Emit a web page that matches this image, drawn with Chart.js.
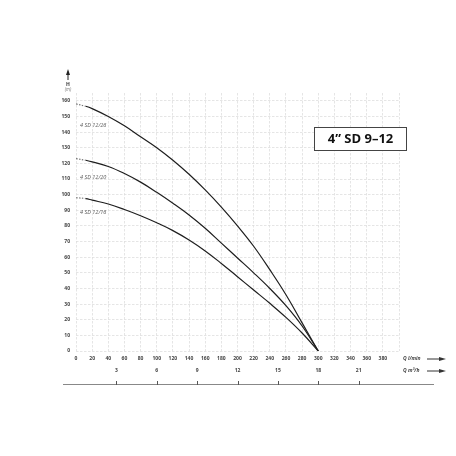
<!DOCTYPE html>
<html>
<head>
<meta charset="utf-8">
<script src="https://cdn.jsdelivr.net/npm/chart.js@4"></script>
<style>
  html, body { margin: 0; padding: 0; background: #fff; }
  #wrap { width: 456px; height: 456px; }
</style>
</head>
<body>
<div id="wrap"><canvas id="chart" width="456" height="456"></canvas></div>
<script>
// flow in l/min, head in m
const flowLpm = [0, 12, 20, 40, 60, 80, 100, 120, 140, 160, 180, 200, 220, 240, 260, 280, 300];
const head1226 = [158, 156.5, 155, 150, 144, 137, 130, 122, 113, 103, 92, 80, 67, 52, 36, 18, 0];
const head1220 = [123, 122, 121, 118, 113.5, 108, 101.5, 94.5, 87, 78.5, 69, 59.5, 50, 40, 29, 16, 0];
const head1216 = [98, 97.5, 96.5, 94, 90.5, 86.5, 82, 77, 71, 64, 56, 47.5, 39, 30.5, 21.5, 11.5, 0];
const pumpNames = ["4 SD 12/26", "4 SD 12/20", "4 SD 12/16"];
const m3hTicks = [3, 6, 9, 12, 15, 18, 21];
const title = "4\u201D SD 9\u201312";

const toPoints = (heads) => flowLpm.map((q, i) => ({ x: q, y: heads[i] }));

const curve = (name, heads) => ({
    label: name,
    data: toPoints(heads),
    borderColor: "#1e1e1e",
    borderWidth: 1.2,
    pointRadius: 0,
    fill: false,
    tension: 0.4,
    segment: {
        borderDash: ctx => ctx.p0DataIndex === 0 ? [1.5, 1.5] : undefined,
        borderColor: ctx => ctx.p0DataIndex === 0 ? "#777" : undefined
    }
});

const tickFont = { family: "'Open Sans', sans-serif", size: 5, weight: "bold" };

const extras = {
    id: "extras",
    afterDraw(chart) {
        const ctx = chart.ctx;
        const x2 = chart.scales.x2;
        ctx.save();

        // H (m) arrow
        ctx.strokeStyle = "#222";
        ctx.fillStyle = "#222";
        ctx.lineWidth = 1;
        ctx.beginPath();
        ctx.moveTo(68, 74);
        ctx.lineTo(68, 80);
        ctx.stroke();
        ctx.beginPath();
        ctx.moveTo(68, 69);
        ctx.lineTo(66, 75);
        ctx.lineTo(70, 75);
        ctx.closePath();
        ctx.fill();
        ctx.font = "bold 5px 'Open Sans', sans-serif";
        ctx.textAlign = "center";
        ctx.textBaseline = "middle";
        ctx.fillStyle = "#333";
        ctx.fillText("H", 68, 85);
        ctx.font = "italic 4.5px 'Open Sans', sans-serif";
        ctx.fillStyle = "#777";
        ctx.fillText("(m)", 68, 90);

        // curve names
        ctx.font = "italic 5.5px 'Open Sans', sans-serif";
        ctx.fillStyle = "#555";
        ctx.textAlign = "left";
        ctx.fillText(pumpNames[0], 80, 125);
        ctx.fillText(pumpNames[1], 80, 177);
        ctx.fillText(pumpNames[2], 80, 212);

        // title box
        ctx.strokeStyle = "#444";
        ctx.lineWidth = 1;
        ctx.fillStyle = "#fff";
        ctx.fillRect(314.5, 127.5, 92, 23);
        ctx.strokeRect(314.5, 127.5, 92, 23);
        ctx.fillStyle = "#111";
        ctx.font = "bold 13px 'Open Sans', sans-serif";
        ctx.textAlign = "center";
        ctx.fillText(title, 360.5, 139.5);

        // second flow axis line and tick marks
        const lineY = 384;
        ctx.strokeStyle = "#888";
        ctx.lineWidth = 1;
        ctx.beginPath();
        ctx.moveTo(63, lineY + 0.5);
        ctx.lineTo(434, lineY + 0.5);
        ctx.stroke();
        ctx.strokeStyle = "#555";
        m3hTicks.forEach(v => {
            const px = Math.round(x2.getPixelForValue(v)) + 0.5;
            ctx.beginPath();
            ctx.moveTo(px, lineY - 3);
            ctx.lineTo(px, lineY + 1);
            ctx.stroke();
        });

        // axis names on the right
        ctx.font = "italic bold 5px 'Open Sans', sans-serif";
        ctx.fillStyle = "#444";
        ctx.textAlign = "left";
        ctx.fillText("Q l/min", 403, 359);
        ctx.fillText("Q m\u00B3/h", 403, 371);
        [359, 371].forEach(ay => {
            ctx.strokeStyle = "#333";
            ctx.beginPath();
            ctx.moveTo(427, ay);
            ctx.lineTo(440, ay);
            ctx.stroke();
            ctx.fillStyle = "#333";
            ctx.beginPath();
            ctx.moveTo(446, ay);
            ctx.lineTo(439, ay - 2);
            ctx.lineTo(439, ay + 2);
            ctx.closePath();
            ctx.fill();
        });
        ctx.restore();
    }
};

new Chart(document.getElementById("chart"), {
    type: "line",
    data: {
        datasets: [
            curve(pumpNames[0], head1226),
            curve(pumpNames[1], head1220),
            curve(pumpNames[2], head1216)
        ]
    },
    options: {
        responsive: false,
        animation: false,
        layout: { padding: { left: 0, right: 57, top: 93, bottom: 59 } },
        plugins: { legend: { display: false }, tooltip: { enabled: false } },
        scales: {
            x: {
                type: "linear",
                position: "bottom",
                min: 0,
                max: 400,
                weight: 0,
                afterFit: s => { s.height = 16; },
                ticks: {
                    stepSize: 20,
                    padding: 5,
                    color: "#444",
                    font: tickFont,
                    maxRotation: 0,
                    autoSkip: false,
                    callback: v => v === 400 ? "" : v
                },
                grid: { color: "#dedede", lineWidth: 0.8, drawTicks: false },
                border: { display: false, dash: [2.5, 1.5] }
            },
            x2: {
                type: "linear",
                position: "bottom",
                min: 0,
                max: 24,
                weight: 1,
                afterFit: s => { s.height = 30; },
                afterBuildTicks: s => { s.ticks = m3hTicks.map(v => ({ value: v })); },
                ticks: {
                    padding: 1,
                    color: "#444",
                    font: tickFont,
                    maxRotation: 0,
                    autoSkip: false
                },
                grid: { display: false, drawTicks: false },
                border: { display: false }
            },
            y: {
                min: 0,
                max: 165,
                afterFit: s => { s.width = 76; },
                afterBuildTicks: s => { s.ticks = s.ticks.filter(t => t.value % 10 === 0); },
                ticks: {
                    stepSize: 10,
                    padding: 6,
                    color: "#444",
                    font: tickFont
                },
                grid: { color: "#dedede", lineWidth: 0.8, drawTicks: false },
                border: { display: false, dash: [2.5, 1.5] }
            }
        }
    },
    plugins: [extras]
});
</script>
</body>
</html>
